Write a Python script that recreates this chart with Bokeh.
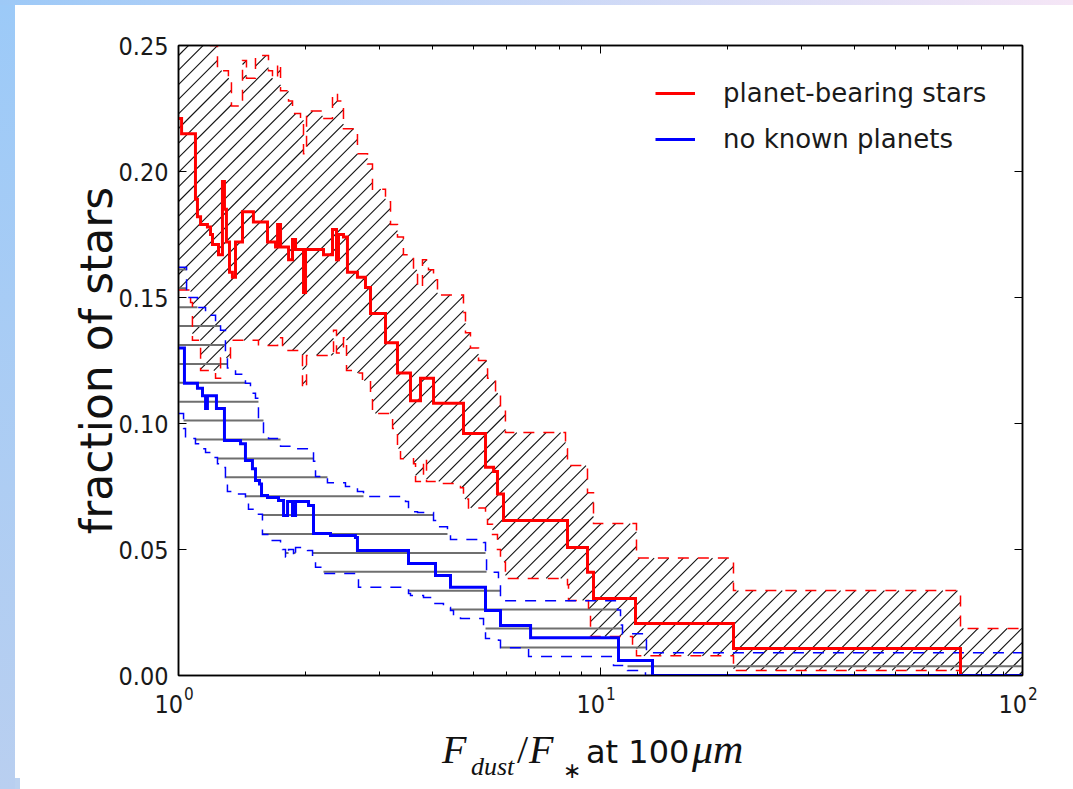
import numpy as np
from bokeh.plotting import figure
from bokeh.layouts import column
from bokeh.models import (FixedTicker, LogAxis, LinearAxis, NumeralTickFormatter,
                          Legend, LegendItem, Range1d, Div)
from bokeh.embed import file_html
from bokeh.resources import INLINE

# ---------------- data (step curves, value holds after each x) ----------------
red_x = [1.000, 1.017, 1.097, 1.109, 1.128, 1.171, 1.191, 1.204, 1.244, 1.271, 1.285, 1.299,
         1.321, 1.342, 1.365, 1.418, 1.505, 1.625, 1.698, 1.717, 1.745, 1.823, 1.863, 1.894,
         1.978, 2.000, 2.206, 2.317, 2.368, 2.394, 2.460, 2.514, 2.655, 2.774, 2.851, 3.094,
         3.303, 3.546, 3.745, 4.021, 4.735, 5.340, 5.580, 5.700, 5.890, 8.352, 9.315, 9.625,
         12.106, 20.66, 71.30, 100.0]
red_y = [0.221, 0.215, 0.189, 0.182, 0.179, 0.178, 0.175, 0.171, 0.167, 0.196, 0.185, 0.172,
         0.160, 0.158, 0.172, 0.184, 0.180, 0.172, 0.170, 0.179, 0.170, 0.165, 0.173, 0.169,
         0.152, 0.169, 0.167, 0.177, 0.165, 0.175, 0.174, 0.160, 0.158, 0.154, 0.1437, 0.132,
         0.120, 0.109, 0.118, 0.108, 0.096, 0.0826, 0.081, 0.072, 0.0615, 0.0508, 0.041, 0.0306,
         0.0206, 0.0107, 0.0, 0.0]

red_up_x = [1.000, 1.191, 1.237, 1.313, 1.335, 1.418, 1.449, 1.522, 1.634, 1.670, 1.717, 1.745,
            1.823, 1.863, 1.946, 1.978, 2.011, 2.194, 2.317, 2.381, 2.460, 2.655, 2.805, 2.882,
            3.094, 3.180, 3.303, 3.412, 3.605, 3.685, 3.786, 3.912, 4.021, 4.109, 4.735, 4.787,
            4.919, 5.14, 5.40, 5.64, 5.794, 5.953, 8.262, 8.352, 9.315, 9.625, 12.17, 20.66,
            71.30, 100.0]
red_up_y = [0.262, 0.250, 0.240, 0.237, 0.226, 0.244, 0.237, 0.246, 0.240, 0.237, 0.243, 0.232,
            0.228, 0.223, 0.221, 0.207, 0.224, 0.221, 0.231, 0.228, 0.217, 0.207, 0.203, 0.193,
            0.188, 0.179, 0.174, 0.167, 0.161, 0.154, 0.165, 0.161, 0.157, 0.151, 0.144, 0.136,
            0.130, 0.125, 0.118, 0.112, 0.106, 0.0964, 0.0900, 0.0833, 0.0725, 0.0603, 0.0466,
            0.0337, 0.0187, 0.0187]

red_lo_x = [1.000, 1.068, 1.079, 1.128, 1.224, 1.258, 1.328, 1.547, 1.717, 1.764, 1.946, 1.967,
            2.011, 2.330, 2.368, 2.460, 2.501, 2.655, 2.729, 2.851, 2.882, 3.216, 3.303, 3.358,
            3.605, 3.645, 3.807, 3.870, 4.176, 4.658, 4.735, 4.866, 5.340, 5.398, 5.548, 5.700,
            5.794, 5.953, 8.352, 8.398, 9.366, 9.469, 11.91, 12.17, 20.66, 71.30, 100.0]
red_lo_y = [0.153, 0.148, 0.133, 0.121, 0.118, 0.126, 0.133, 0.131, 0.134, 0.129, 0.127, 0.114,
            0.127, 0.137, 0.128, 0.134, 0.121, 0.120, 0.117, 0.110, 0.104, 0.098, 0.090, 0.086,
            0.084, 0.077, 0.086, 0.077, 0.0762, 0.0745, 0.070, 0.0665, 0.065, 0.060, 0.056, 0.050,
            0.045, 0.0385, 0.036, 0.0298, 0.0257, 0.0155, 0.011, 0.0078, 0.002, 0.0, 0.0]

blue_x = [1.000, 1.033, 1.109, 1.140, 1.159, 1.171, 1.230, 1.285, 1.403, 1.441, 1.497, 1.522,
          1.556, 1.573, 1.625, 1.726, 1.774, 1.813, 1.863, 1.894, 2.033, 2.089, 2.292, 2.626,
          2.655, 3.508, 4.064, 4.411, 5.340, 5.794, 6.828, 11.033, 13.282, 100.0]
blue_y = [0.130, 0.116, 0.114, 0.111, 0.106, 0.111, 0.106, 0.0933, 0.092, 0.0853, 0.082, 0.0774,
          0.076, 0.0714, 0.0706, 0.0694, 0.0635, 0.069, 0.0635, 0.069, 0.0675, 0.0563, 0.0556,
          0.0548, 0.0496, 0.0444, 0.0397, 0.035, 0.0258, 0.0198, 0.015, 0.006, 0.0, 0.0]

blue_up_x = [1.000, 1.045, 1.109, 1.159, 1.224, 1.258, 1.292, 1.306, 1.365, 1.441, 1.481, 1.522,
             1.547, 1.590, 1.634, 1.745, 1.894, 2.055, 2.089, 2.112, 2.254, 2.487, 2.584, 2.655,
             2.744, 3.451, 3.508, 3.685, 4.021, 4.109, 4.339, 4.411, 5.282, 5.340, 5.370, 5.731,
             5.794, 10.973, 11.154, 11.276, 12.85, 100.0]
blue_up_y = [0.162, 0.150, 0.146, 0.143, 0.140, 0.137, 0.128, 0.122, 0.1195, 0.116, 0.112, 0.110,
             0.102, 0.096, 0.094, 0.091, 0.090, 0.089, 0.085, 0.079, 0.0765, 0.075, 0.0745, 0.073,
             0.071, 0.069, 0.065, 0.0647, 0.0615, 0.059, 0.056, 0.054, 0.0528, 0.048, 0.041, 0.037,
             0.0297, 0.026, 0.020, 0.0166, 0.009, 0.009]

blue_lo_x = [1.000, 1.028, 1.039, 1.097, 1.128, 1.159, 1.204, 1.237, 1.271, 1.292, 1.306, 1.365,
             1.441, 1.465, 1.547, 1.581, 1.652, 1.745, 1.764, 1.793, 1.823, 1.873, 1.894, 2.022,
             2.078, 2.112, 2.206, 2.626, 2.670, 3.412, 3.508, 3.546, 3.807, 3.999, 4.245, 4.411,
             4.484, 4.658, 5.282, 5.340, 5.731, 5.794, 6.754, 10.735, 11.588, 12.781, 100.0]
blue_lo_y = [0.104, 0.098, 0.094, 0.092, 0.090, 0.0885, 0.0865, 0.084, 0.0825, 0.0786, 0.073,
             0.072, 0.0706, 0.066, 0.064, 0.056, 0.0536, 0.0516, 0.050, 0.047, 0.050, 0.047,
             0.0508, 0.0496, 0.047, 0.043, 0.0405, 0.0397, 0.035, 0.0345, 0.0325, 0.0317, 0.031,
             0.0286, 0.027, 0.0258, 0.0235, 0.0226, 0.019, 0.0147, 0.014, 0.011, 0.0075, 0.004,
             0.002, 0.0, 0.0]

series_labels = ["planet-bearing stars", "no known planets"]
x_ticks = [1, 10, 100]
x_tick_exps = ["0", "1", "2"]
x_minor = [2, 3, 4, 5, 6, 7, 8, 9, 20, 30, 40, 50, 60, 70, 80, 90]
y_ticks = [0.0, 0.05, 0.10, 0.15, 0.20, 0.25]
y_label = "fraction of stars"

# ---------------- layout geometry ----------------
W, H = 1073, 789
L, R, T, B = 178, 1022, 45, 675
FIG_H = 691
OVERLAP = 12          # the text strip below starts a little above the figure's bottom edge
DIV_TOP = FIG_H - OVERLAP

def xpix(x):
    return L + (R - L) / 2.0 * np.log10(x)
def ypix(v):
    return B - np.asarray(v) * (B - T) / 0.25
def xdat(px):
    return 10 ** ((np.asarray(px) - L) / ((R - L) / 2.0))
def ydat(py):
    return (B - np.asarray(py)) / ((B - T) / 0.25)

def bounds_grid(ux, uy, lx, ly):
    grid = np.array(sorted(set(ux) | set(lx)))
    iu = np.searchsorted(ux, grid[:-1], side="right") - 1
    il = np.searchsorted(lx, grid[:-1], side="right") - 1
    return grid, np.array(uy)[iu], np.array(ly)[il]

def horizontal_hatch(ux, uy, lx, ly, levels_px):
    grid, up, lo = bounds_grid(ux, uy, lx, ly)
    x0, x1, yy = [], [], []
    for yk in levels_px:
        v = float(ydat(yk))
        inside = (lo <= v) & (v <= up)
        i = 0
        while i < len(inside):
            if inside[i]:
                j = i
                while j + 1 < len(inside) and inside[j + 1]:
                    j += 1
                x0.append(grid[i]); x1.append(grid[j + 1]); yy.append(v)
                i = j + 1
            else:
                i += 1
    return x0, x1, yy

def diagonal_hatch(ux, uy, lx, ly, c_values):
    grid, up, lo = bounds_grid(ux, uy, lx, ly)
    pa = xpix(grid[:-1]); pb = xpix(grid[1:])
    pu = ypix(up); pl = ypix(lo)
    sx0, sx1, cs = [], [], []
    for c in c_values:
        cur = None
        for a, b, u, l in zip(pa, pb, pu, pl):
            lo_x = max(a, c - l); hi_x = min(b, c - u)
            if hi_x > lo_x:
                if cur is not None and abs(cur[1] - lo_x) < 1e-6:
                    cur[1] = hi_x
                else:
                    if cur is not None:
                        sx0.append(cur[0]); sx1.append(cur[1]); cs.append(c)
                    cur = [lo_x, hi_x]
        if cur is not None:
            sx0.append(cur[0]); sx1.append(cur[1]); cs.append(c)
    sx0 = np.array(sx0); sx1 = np.array(sx1); cs = np.array(cs)
    return (list(xdat(sx0)), list(ydat(cs - sx0)), list(xdat(sx1)), list(ydat(cs - sx1)))

# ---------------- figure ----------------
p = figure(width=W, height=FIG_H, x_axis_type="log",
           x_range=Range1d(1, 100), y_range=Range1d(0, 0.25),
           output_backend="svg", toolbar_location=None,
           min_border_left=L, min_border_right=W - R,
           min_border_top=T, min_border_bottom=FIG_H - B)
p.border_fill_color = None
p.background_fill_color = "white"
p.outline_line_color = "black"
p.outline_line_width = 1.5
p.xgrid.visible = False
p.ygrid.visible = False

# hatch of the planet-bearing band (diagonal) and of the no-planet band (horizontal)
dx0, dy0, dx1, dy1 = diagonal_hatch(red_up_x, red_up_y, red_lo_x, red_lo_y,
                                    np.arange(233 - 14.6 * 4, 1720, 14.6))
p.segment(dx0, dy0, dx1, dy1, line_color="#111111", line_width=1.1)
hx0, hx1, hy = horizontal_hatch(blue_up_x, blue_up_y, blue_lo_x, blue_lo_y,
                                306.7 + 18.9 * np.arange(-3, 20))
p.segment(hx0, hy, hx1, hy, line_color="#6f6f6f", line_width=2)

# dashed bounds
for xs, ys, c in [(red_up_x, red_up_y, "red"), (red_lo_x, red_lo_y, "red"),
                  (blue_up_x, blue_up_y, "blue"), (blue_lo_x, blue_lo_y, "blue")]:
    p.step(xs, ys, mode="after", line_color=c, line_width=1.5, line_dash="11 9",
           line_join="miter")

# main lines
r_red = p.step(red_x, red_y, mode="after", line_color="red", line_width=3, line_join="miter")
r_blue = p.step(blue_x, blue_y, mode="after", line_color="blue", line_width=3, line_join="miter")

# axes
def style_axis(ax):
    ax.axis_line_color = "black"
    ax.axis_line_width = 1.5
    ax.major_tick_in = 8
    ax.major_tick_out = 0
    ax.minor_tick_in = 4
    ax.minor_tick_out = 0
    ax.major_tick_line_color = "black"
    ax.minor_tick_line_color = "black"

TICK_FONT = "DejaVu Sans Condensed"
xt = FixedTicker(ticks=x_ticks, minor_ticks=x_minor)
yt = FixedTicker(ticks=y_ticks, minor_ticks=[])
p.xaxis.ticker = xt
p.yaxis.ticker = yt
style_axis(p.xaxis[0])
style_axis(p.yaxis[0])
p.xaxis.major_label_text_color = None
p.xaxis.major_label_text_font_size = "1px"
p.xaxis.major_label_standoff = 0
p.yaxis.formatter = NumeralTickFormatter(format="0.00")
p.yaxis.major_label_text_font = TICK_FONT
p.yaxis.major_label_text_font_size = "25px"
p.yaxis.major_label_text_color = "#1a1a1a"
p.yaxis.major_label_standoff = 10
p.yaxis.axis_label = y_label
p.yaxis.axis_label_text_font = "DejaVu Sans"
p.yaxis.axis_label_text_font_style = "normal"
p.yaxis.axis_label_text_font_size = "44px"
p.yaxis.axis_label_text_color = "#111111"
p.yaxis.axis_label_standoff = -7

top = LogAxis(ticker=xt, major_label_text_color=None)
style_axis(top)
p.add_layout(top, "above")
right = LinearAxis(ticker=yt, major_label_text_color=None)
style_axis(right)
p.add_layout(right, "right")

legend = Legend(items=[LegendItem(label=series_labels[0], renderers=[r_red]),
                       LegendItem(label=series_labels[1], renderers=[r_blue])],
                location="top_right")
legend.label_text_font = "DejaVu Sans"
legend.label_text_font_size = "26px"
legend.label_text_color = "#1a1a1a"
legend.glyph_width = 40
legend.glyph_height = 30
legend.label_height = 30
legend.label_width = 266
legend.label_standoff = 28
legend.spacing = 16
legend.padding = 0
legend.margin = 33
legend.border_line_color = None
legend.background_fill_alpha = 0
p.add_layout(legend)

# ---------------- text below the frame: tick labels 10^n and the x-axis label ----------------
def svg_text(txt, x, y, font, size, style="normal", anchor="start", color="#111111"):
    return (f'<text x="{x:.1f}" y="{y - DIV_TOP:.1f}" '
            f'style="font-family:\'{font}\';font-size:{size}px;font-style:{style};'
            f'font-weight:normal;fill:{color};text-anchor:{anchor}">{txt}</text>')

parts = []
for t, e in zip(x_ticks, x_tick_exps):
    tx = xpix(t)
    parts.append(svg_text("10", tx + 5, 713, TICK_FONT, 25, anchor="end", color="#1a1a1a"))
    parts.append(svg_text(e, tx + 6, 700, TICK_FONT, 17, anchor="start", color="#1a1a1a"))
xl = [("F", 442, 763, "Liberation Serif", "italic", 40),
      ("dust", 471, 775, "Liberation Serif", "italic", 26),
      ("/", 517, 763, "Liberation Serif", "normal", 40),
      ("F", 529, 763, "Liberation Serif", "italic", 40),
      ("\u2217", 563, 778, "DejaVu Sans", "normal", 22),
      ("at 100", 586, 763, "DejaVu Sans", "normal", 32),
      ("\u03bcm", 692, 763, "Liberation Serif", "italic", 42)]
for txt, px, py, font, style, size in xl:
    parts.append(svg_text(txt, px, py, font, size, style=style))
svg = (f'<svg xmlns="http://www.w3.org/2000/svg" width="{W}" height="{H - DIV_TOP}" '
       f'style="display:block">' + "".join(parts) + "</svg>")
div = Div(text=svg, width=W, height=H - DIV_TOP, margin=(-OVERLAP, 0, 0, 0))

page = column(p, div, spacing=0, width=W, height=H, styles={"background": (
    "linear-gradient(to right, #9dc9f7, #f5e6f6) 0 0 / 100% 5px no-repeat, "
    "linear-gradient(to bottom, #9ccaf8, #b9cff0) 0 0 / 15px 100% no-repeat, "
    "linear-gradient(#bcd2f0, #bcd2f0) 0 100% / 20px 11px no-repeat, #ffffff")})

open("out.html", "w").write(file_html(page, INLINE))
